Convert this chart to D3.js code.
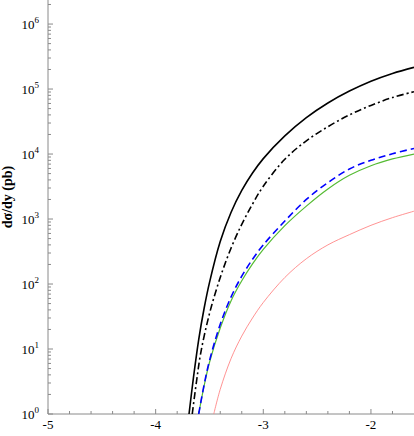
<!DOCTYPE html>
<html>
<head>
<meta charset="utf-8">
<script src="https://cdn.jsdelivr.net/npm/d3@7"></script>
<style>
  body { margin: 0; background: #fff; }
  svg { display: block; }
</style>
</head>
<body>
<script>
// rapidity values and dsigma/dy in pb
const xSolid   = [-3.69, -3.65, -3.6, -3.55, -3.5, -3.4, -3.3, -3.2, -3.1, -3.0, -2.8, -2.6, -2.4, -2.2, -2.0, -1.8, -1.6]
const ySolid   = [1, 3.5, 14, 42, 105, 450, 1260, 2750, 5100, 8500, 1.9e4, 3.63e4, 6.1e4, 9.3e4, 1.32e5, 1.74e5, 2.16e5]

const xDashDot = [-3.66, -3.62, -3.58, -3.5, -3.4, -3.3, -3.2, -3.1, -3.0, -2.8, -2.6, -2.4, -2.2, -2.0, -1.8, -1.6]
const yDashDot = [1, 3.2, 8.9, 35, 126, 355, 830, 1700, 3200, 8300, 1.6e4, 2.63e4, 4.0e4, 5.6e4, 7.4e4, 9.1e4]

const xDashed  = [-3.6, -3.55, -3.5, -3.4, -3.3, -3.2, -3.1, -3.0, -2.8, -2.6, -2.4, -2.2, -2.0, -1.8, -1.6]
const yDashed  = [1, 2.8, 6.6, 24, 63, 132, 240, 400, 930, 2000, 3630, 5900, 8000, 1.01e4, 1.22e4]

const xGreen   = [-3.6, -3.55, -3.5, -3.4, -3.3, -3.2, -3.1, -3.0, -2.8, -2.6, -2.4, -2.2, -2.0, -1.8, -1.6]
const yGreen   = [1, 2.7, 6.2, 21, 55, 112, 204, 340, 790, 1580, 2900, 4700, 6600, 8400, 1.0e4]

const xRed     = [-3.46, -3.4, -3.3, -3.2, -3.1, -3.0, -2.8, -2.6, -2.4, -2.2, -2.0, -1.8, -1.6]
const yRed     = [1, 2.4, 7.1, 15.8, 30, 52, 126, 245, 400, 575, 800, 1050, 1320]

const xTicks = [-5, -4, -3, -2]
const yExps  = [0, 1, 2, 3, 4, 5, 6]

const W = 414, H = 436
const margin = {top: 0, right: 0, bottom: 22, left: 48}
const width  = W - margin.left - margin.right,
      height = H - margin.top - margin.bottom

const svg = d3.select("body").append("svg")
    .attr("width", W)
    .attr("height", H)

const container = svg.append("g")
    .attr("transform", `translate(${margin.left}, ${margin.top})`)

const x = d3.scaleLinear().domain([-5, -1.6]).range([0, width])
const y = d3.scaleLog().domain([1, Math.pow(10, 6.37)]).range([height, 0])

svg.append("defs").append("clipPath").attr("id", "plot")
    .append("rect").attr("width", width).attr("height", height)

const axisColor = "#8a8a8a"

// x axis: minor ticks every 0.2, pointing up
const xMinor = d3.range(-5, -1.6, 0.2)
container.selectAll("line.xminor")
    .data(xMinor)
    .enter().append("line")
    .attr("x1", d => x(d)).attr("x2", d => x(d))
    .attr("y1", height).attr("y2", d => Math.abs(d - Math.round(d)) < 1e-6 ? height - 5 : height - 3)
    .style("stroke", axisColor)
container.append("line")
    .attr("x1", 0).attr("x2", width)
    .attr("y1", height).attr("y2", height)
    .style("stroke", axisColor)
container.selectAll("text.xlab")
    .data(xTicks)
    .enter().append("text")
    .attr("x", d => x(d))
    .attr("y", height + 15)
    .style("text-anchor", "middle")
    .style("font-family", "'Liberation Serif', serif")
    .style("font-size", "13px")
    .style("fill", "#000")
    .text(d => d)

// y axis: decade ticks + 2..9 minors, pointing right
const yMinor = []
for (let e = 0; e <= 6; e++) {
    for (let m = 1; m <= 9; m++) {
        const v = m * Math.pow(10, e)
        if (v <= y.domain()[1]) yMinor.push({v: v, major: m === 1})
    }
}
container.selectAll("line.yminor")
    .data(yMinor)
    .enter().append("line")
    .attr("x1", 0).attr("x2", d => d.major ? 5 : 3)
    .attr("y1", d => y(d.v)).attr("y2", d => y(d.v))
    .style("stroke", axisColor)
container.append("line")
    .attr("x1", 0).attr("x2", 0)
    .attr("y1", 0).attr("y2", height)
    .style("stroke", axisColor)

const ylab = container.selectAll("text.ylab")
    .data(yExps)
    .enter().append("text")
    .attr("x", -9)
    .attr("y", d => y(Math.pow(10, d)) + 5)
    .style("text-anchor", "end")
    .style("font-family", "'Liberation Serif', serif")
    .style("font-size", "13px")
    .style("fill", "#000")
ylab.append("tspan").text("10")
ylab.append("tspan")
    .attr("dy", -6)
    .style("font-size", "9px")
    .text(d => d)

svg.append("text")
    .attr("transform", `translate(12, 197) rotate(-90)`)
    .style("text-anchor", "middle")
    .style("font-family", "'Liberation Serif', serif")
    .style("font-weight", "bold")
    .style("font-size", "14px")
    .text("dσ/dy (pb)")

const series = [
    {xs: xSolid,   ys: ySolid,   color: "#000000", w: 1.6, dash: null},
    {xs: xDashDot, ys: yDashDot, color: "#000000", w: 1.6, dash: "7,3,2,3"},
    {xs: xGreen,   ys: yGreen,   color: "#55bb33", w: 1.2, dash: null},
    {xs: xDashed,  ys: yDashed,  color: "#0000ff", w: 1.6, dash: "7,4"},
    {xs: xRed,     ys: yRed,     color: "#ff7777", w: 0.8, dash: null}
]

const line = d3.line()
    .x(d => x(d[0]))
    .y(d => y(d[1]))
    .curve(d3.curveCatmullRom.alpha(0.5))

container.append("g")
    .attr("clip-path", "url(#plot)")
    .selectAll("path")
    .data(series)
    .enter().append("path")
    .attr("d", s => line(s.xs.map((v, i) => [v, s.ys[i]])))
    .style("fill", "none")
    .style("stroke", s => s.color)
    .style("stroke-width", s => s.w)
    .style("stroke-dasharray", s => s.dash)
</script>
</body>
</html>
